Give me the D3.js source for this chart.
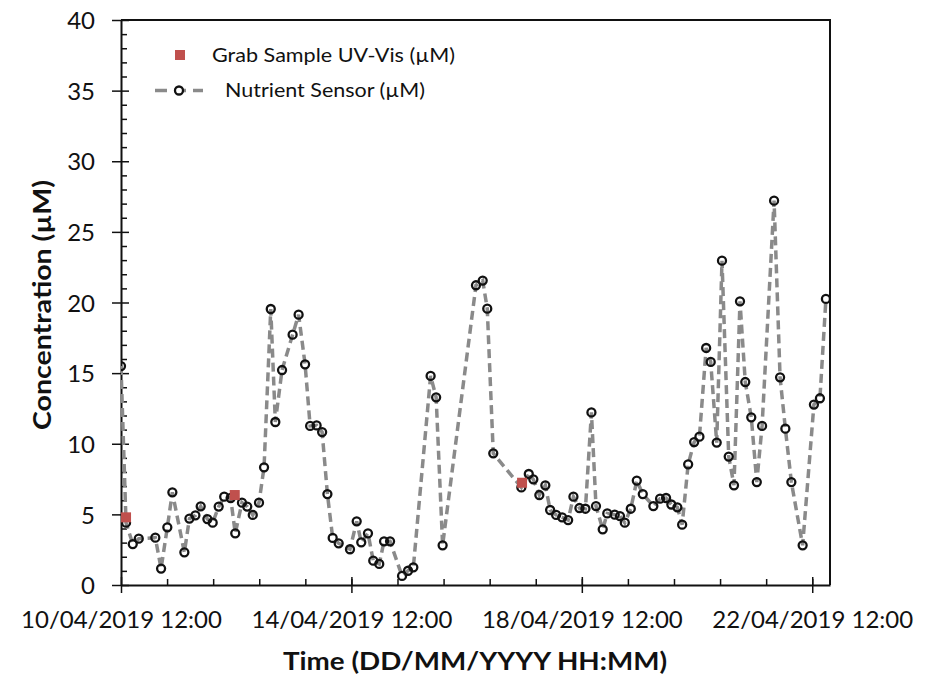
<!DOCTYPE html>
<html>
<head>
<meta charset="utf-8">
<script src="https://cdn.jsdelivr.net/npm/d3@7"></script>
<style>
  body { margin: 0; background: #fff; }
  text { font-family: Lato, "Open Sans", sans-serif; fill: #111; }
</style>
</head>
<body>
<div id="chart"></div>
<script>
// sensor readings (time, µM)
const sensorTimes = [
  "2019-04-10 12:00", "2019-04-10 14:06", "2019-04-10 16:54", "2019-04-10 19:24",
  "2019-04-11 02:18", "2019-04-11 04:42", "2019-04-11 07:18", "2019-04-11 09:24",
  "2019-04-11 14:24", "2019-04-11 16:30", "2019-04-11 19:00", "2019-04-11 21:12",
  "2019-04-12 00:00", "2019-04-12 02:12", "2019-04-12 04:42", "2019-04-12 07:00",
  "2019-04-12 09:42", "2019-04-12 11:36", "2019-04-12 14:24", "2019-04-12 16:36",
  "2019-04-12 18:54", "2019-04-12 21:30", "2019-04-12 23:36", "2019-04-13 02:24",
  "2019-04-13 04:18", "2019-04-13 07:06", "2019-04-13 11:30", "2019-04-13 14:00",
  "2019-04-13 16:42", "2019-04-13 18:48", "2019-04-13 21:30", "2019-04-13 23:48",
  "2019-04-14 02:00", "2019-04-14 04:12", "2019-04-14 06:42", "2019-04-14 11:24",
  "2019-04-14 14:12", "2019-04-14 16:06", "2019-04-14 18:54", "2019-04-14 21:06",
  "2019-04-14 23:36", "2019-04-15 01:36", "2019-04-15 04:06", "2019-04-15 09:06",
  "2019-04-15 11:36", "2019-04-15 13:48", "2019-04-15 21:00", "2019-04-15 23:18",
  "2019-04-16 02:00", "2019-04-16 15:54", "2019-04-16 18:42", "2019-04-16 20:36",
  "2019-04-16 23:06", "2019-04-17 10:48", "2019-04-17 13:54", "2019-04-17 15:48",
  "2019-04-17 18:18", "2019-04-17 20:48", "2019-04-17 22:48", "2019-04-18 01:18",
  "2019-04-18 03:48", "2019-04-18 06:18", "2019-04-18 08:30", "2019-04-18 11:00",
  "2019-04-18 13:30", "2019-04-18 16:00", "2019-04-18 17:54", "2019-04-18 20:42",
  "2019-04-18 22:36", "2019-04-19 01:42", "2019-04-19 03:54", "2019-04-19 05:54",
  "2019-04-19 08:24", "2019-04-19 10:54", "2019-04-19 13:24", "2019-04-19 17:48",
  "2019-04-19 20:36", "2019-04-19 23:06", "2019-04-20 01:18", "2019-04-20 03:48",
  "2019-04-20 05:48", "2019-04-20 08:18", "2019-04-20 10:48", "2019-04-20 13:00",
  "2019-04-20 15:48", "2019-04-20 17:42", "2019-04-20 20:12", "2019-04-20 22:24",
  "2019-04-21 01:12", "2019-04-21 03:24", "2019-04-21 05:54", "2019-04-21 08:06",
  "2019-04-21 10:36", "2019-04-21 12:54", "2019-04-21 15:06", "2019-04-21 20:06",
  "2019-04-21 22:36", "2019-04-22 00:48", "2019-04-22 03:18", "2019-04-22 08:00",
  "2019-04-22 12:42", "2019-04-22 15:12", "2019-04-22 17:42"
];
const sensorValues = [
  15.5, 4.41, 2.9, 3.28,
  3.35, 1.16, 4.08, 6.56,
  2.31, 4.7, 4.93, 5.57,
  4.67, 4.41, 5.55, 6.25,
  6.16, 3.66, 5.83, 5.55,
  4.96, 5.83, 8.33, 19.54,
  11.54, 15.22, 17.72, 19.14,
  15.62, 11.26, 11.3, 10.83,
  6.44, 3.33, 2.95, 2.53,
  4.51, 3.02, 3.66, 1.72,
  1.49, 3.09, 3.09, 0.64,
  1.01, 1.25, 14.8, 13.29,
  2.81, 21.22, 21.55, 19.56,
  9.32, 6.91, 7.86, 7.48,
  6.37, 7.06, 5.31, 4.96,
  4.79, 4.6, 6.25, 5.45,
  5.4, 12.22, 5.59, 3.94,
  5.07, 4.98, 4.88, 4.41,
  5.4, 7.39, 6.44, 5.59,
  6.11, 6.16, 5.7, 5.5,
  4.27, 8.54, 10.12, 10.5,
  16.78, 15.79, 10.08, 22.96,
  9.09, 7.06, 20.08, 14.37,
  11.87, 7.29, 11.26, 27.21,
  14.7, 11.07, 7.29, 2.81,
  12.77, 13.22, 20.25
];

// grab samples measured by UV-Vis
const grabTimes = ["2019-04-10 14:06", "2019-04-12 11:24", "2019-04-17 11:06"];
const grabValues = [4.79, 6.37, 7.24];

const yTicks = [0, 5, 10, 15, 20, 25, 30, 35, 40];
const xTickTimes = ["2019-04-10 12:00", "2019-04-14 12:00", "2019-04-18 12:00", "2019-04-22 12:00"];
const xTickLabels = ["10/04/2019 12:00", "14/04/2019 12:00", "18/04/2019 12:00", "22/04/2019 12:00"];
const xDomain = ["2019-04-10 12:00", "2019-04-22 19:24"];

const width = 940, height = 677;
const margin = { top: 20, right: 110, bottom: 92, left: 121 };
const parseTime = d3.utcParse("%Y-%m-%d %H:%M");

const sensor = sensorTimes.map((t, i) => ({ t: parseTime(t), v: sensorValues[i] }));
const grab = grabTimes.map((t, i) => ({ t: parseTime(t), v: grabValues[i] }));

const x = d3.scaleUtc()
  .domain(xDomain.map(parseTime))
  .range([margin.left, width - margin.right]);

const y = d3.scaleLinear()
  .domain([0, 40])
  .range([height - margin.bottom, margin.top]);

const svg = d3.select('#chart')
  .append('svg')
  .attr('width', width)
  .attr('height', height);

svg.append('clipPath').attr('id', 'plotclip')
  .append('rect')
  .attr('x', margin.left).attr('y', margin.top)
  .attr('width', width - margin.left - margin.right)
  .attr('height', height - margin.top - margin.bottom);

// frame (top + right)
svg.append('path')
  .attr('d', `M${margin.left},${margin.top}H${width - margin.right}V${height - margin.bottom}`)
  .attr('fill', 'none')
  .attr('stroke', '#111')
  .attr('stroke-width', 2);

// minor ticks: 1 unit on y, 0.8 day on x (inside the plot)
const minorY = d3.range(0, 41).filter(d => d % 5 !== 0);
svg.append('g')
  .attr('transform', `translate(${margin.left},0)`)
  .call(d3.axisRight(y).tickValues(minorY).tickSize(6).tickFormat(''))
  .call(g => g.select('.domain').remove())
  .selectAll('line').attr('stroke', '#111').attr('stroke-width', 1.5);

const t0 = parseTime(xDomain[0]);
const minorX = d3.range(1, 16)
  .map(i => new Date(t0.getTime() + i * 0.8 * 864e5))
  .filter(d => d <= x.domain()[1]);
svg.append('g')
  .attr('transform', `translate(0,${height - margin.bottom})`)
  .call(d3.axisTop(x).tickValues(minorX).tickSize(6).tickFormat(''))
  .call(g => g.select('.domain').remove())
  .selectAll('line').attr('stroke', '#111').attr('stroke-width', 1.5);

// major axes
const yAxis = svg.append('g')
  .attr('transform', `translate(${margin.left},0)`)
  .call(d3.axisLeft(y).tickValues(yTicks).tickSize(9).tickSizeOuter(0).tickPadding(17));
yAxis.select('.domain').attr('stroke', '#111').attr('stroke-width', 2);
yAxis.selectAll('line').attr('x1', 8).attr('stroke', '#111').attr('stroke-width', 1.5);
yAxis.selectAll('text')
  .attr('dy', '0.36em')
  .style('font-size', '24px');

const xAxis = svg.append('g')
  .attr('transform', `translate(0,${height - margin.bottom})`)
  .call(d3.axisBottom(x)
    .tickValues(xTickTimes.map(parseTime))
    .tickFormat((d, i) => xTickLabels[i])
    .tickSize(8).tickSizeOuter(0).tickPadding(18));
xAxis.select('.domain').attr('stroke', '#111').attr('stroke-width', 2);
xAxis.selectAll('line').attr('y1', -8).attr('stroke', '#111').attr('stroke-width', 1.5);
xAxis.selectAll('text').style('font-size', '24px');

// axis titles
svg.append('text')
  .attr('x', 475)
  .attr('y', 670)
  .attr('text-anchor', 'middle')
  .attr('textLength', 384)
  .attr('lengthAdjust', 'spacingAndGlyphs')
  .style('font-size', '25px')
  .style('font-weight', 'bold')
  .text('Time (DD/MM/YYYY HH:MM)');

svg.append('text')
  .attr('transform', 'translate(51,305) rotate(-90)')
  .attr('text-anchor', 'middle')
  .attr('textLength', 250)
  .attr('lengthAdjust', 'spacingAndGlyphs')
  .style('font-size', '25px')
  .style('font-weight', 'bold')
  .text('Concentration (µM)');

// sensor line + markers
const plot = svg.append('g').attr('clip-path', 'url(#plotclip)');
const line = d3.line().x(d => x(d.t)).y(d => y(d.v));

plot.append('path')
  .datum(sensor)
  .attr('d', line)
  .attr('fill', 'none')
  .attr('stroke', '#8a8a8a')
  .attr('stroke-width', 3.5)
  .attr('stroke-dasharray', '9,5');

plot.selectAll('.dot')
  .data(sensor)
  .enter()
  .append('circle')
  .attr('class', 'dot')
  .attr('cx', d => x(d.t))
  .attr('cy', d => y(d.v))
  .attr('r', 4)
  .attr('fill', 'none')
  .attr('stroke', '#111')
  .attr('stroke-width', 2.3);

const sq = 10;
plot.selectAll('.grab')
  .data(grab)
  .enter()
  .append('rect')
  .attr('class', 'grab')
  .attr('x', d => x(d.t) - sq / 2)
  .attr('y', d => y(d.v) - sq / 2)
  .attr('width', sq)
  .attr('height', sq)
  .attr('fill', '#c0504d');

// legend
const legend = svg.append('g').attr('id', 'legend');
legend.append('rect')
  .attr('x', 175).attr('y', 50)
  .attr('width', sq).attr('height', sq)
  .attr('fill', '#c0504d');
legend.append('text')
  .attr('x', 212).attr('y', 62)
  .attr('textLength', 243)
  .attr('lengthAdjust', 'spacingAndGlyphs')
  .style('font-size', '20px')
  .text('Grab Sample UV-Vis (µM)');

legend.append('line')
  .attr('x1', 155).attr('x2', 203)
  .attr('y1', 90.5).attr('y2', 90.5)
  .attr('stroke', '#8a8a8a')
  .attr('stroke-width', 3.5)
  .attr('stroke-dasharray', '12,7');
legend.append('circle')
  .attr('cx', 179).attr('cy', 90.5).attr('r', 4)
  .attr('fill', '#fff')
  .attr('stroke', '#111').attr('stroke-width', 2.3);
legend.append('text')
  .attr('x', 225).attr('y', 97)
  .attr('textLength', 200)
  .attr('lengthAdjust', 'spacingAndGlyphs')
  .style('font-size', '20px')
  .text('Nutrient Sensor (µM)');
</script>
</body>
</html>
